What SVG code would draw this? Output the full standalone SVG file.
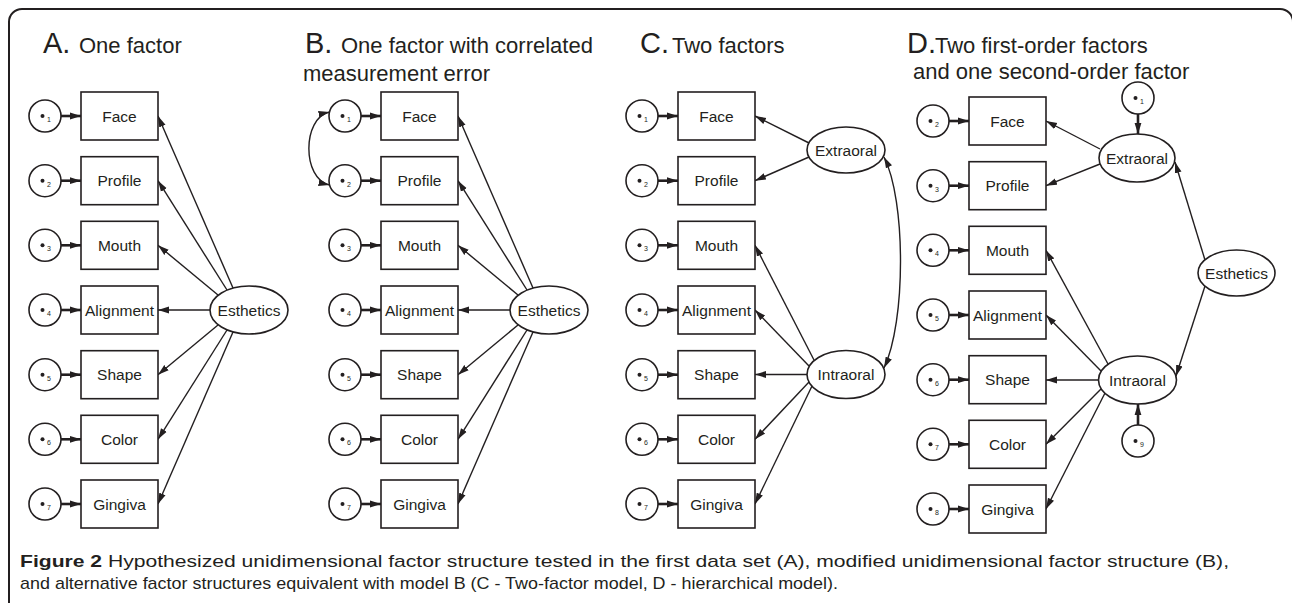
<svg xmlns="http://www.w3.org/2000/svg" width="1292" height="603" viewBox="0 0 1292 603">
<style>
.frame{fill:none;stroke:#231f20;stroke-width:2}
.box{fill:#fff;stroke:#231f20;stroke-width:1.6}
.lat{fill:#fff;stroke:#231f20;stroke-width:1.6}
.err{fill:#fff;stroke:#231f20;stroke-width:1.6}
.dot{fill:#231f20}
.lbl{font-family:"Liberation Sans",Arial,sans-serif;font-size:15.5px;fill:#231f20;text-anchor:middle}
.sub{font-family:"Liberation Sans",Arial,sans-serif;font-size:7px;fill:#231f20}
.big{font-family:"Liberation Sans",Arial,sans-serif;font-size:29px;fill:#231f20}
.ttl{font-family:"Liberation Sans",Arial,sans-serif;font-size:22px;fill:#231f20}
.cap{font-family:"Liberation Sans",Arial,sans-serif;font-size:17px;fill:#231f20}
.ln{fill:none;stroke:#231f20;stroke-width:1.4;marker-end:url(#ah)}
.thk{fill:none;stroke:#231f20;stroke-width:2.6;marker-end:url(#ah)}
.dbl{fill:none;stroke:#231f20;stroke-width:1.4;marker-start:url(#ah);marker-end:url(#ah)}
</style>
<defs>
<marker id="ah" markerWidth="12" markerHeight="8" refX="11" refY="4" orient="auto-start-reverse" markerUnits="userSpaceOnUse">
<path d="M0,0.6 L11,4 L0,7.4 z" fill="#231f20"/>
</marker>
</defs>
<rect width="1292" height="603" fill="#fff"/>
<path class="frame" d="M9,640 V22 A13,13 0 0 1 22,9 H1280 A13,13 0 0 1 1293,22 V640"/>

<!-- titles -->
<g id="titleA"><text class="big" x="43" y="53">A.</text><text class="ttl" x="79" y="53">One factor</text></g>
<g id="titleB"><text class="big" x="305" y="53">B.</text><text class="ttl" x="341" y="53">One factor with correlated</text><text class="ttl" x="303" y="81">measurement error</text></g>
<g id="titleC"><text class="big" x="640" y="53">C.</text><text class="ttl" x="672" y="53">Two factors</text></g>
<g id="titleD"><text class="big" x="907" y="53">D.</text><text class="ttl" x="935" y="53">Two first-order factors</text><text class="ttl" x="913" y="79">and one second-order factor</text></g>

<!-- connectors -->
<g id="connectors">
<line class="thk" x1="61" y1="116" x2="81" y2="116"/>
<line class="thk" x1="61" y1="180.7" x2="81" y2="180.7"/>
<line class="thk" x1="61" y1="245.3" x2="81" y2="245.3"/>
<line class="thk" x1="61" y1="310" x2="81" y2="310"/>
<line class="thk" x1="61" y1="374.7" x2="81" y2="374.7"/>
<line class="thk" x1="61" y1="439.3" x2="81" y2="439.3"/>
<line class="thk" x1="61" y1="504" x2="81" y2="504"/>
<line class="ln" x1="233" y1="288" x2="158" y2="116"/>
<line class="ln" x1="227" y1="290" x2="158" y2="180.7"/>
<line class="ln" x1="218" y1="295" x2="158" y2="245.3"/>
<line class="ln" x1="210" y1="310" x2="158" y2="310"/>
<line class="ln" x1="218" y1="325" x2="158" y2="374.7"/>
<line class="ln" x1="227" y1="330" x2="158" y2="439.3"/>
<line class="ln" x1="233" y1="332" x2="158" y2="504"/>
<line class="thk" x1="361" y1="116" x2="381" y2="116"/>
<line class="thk" x1="361" y1="180.7" x2="381" y2="180.7"/>
<line class="thk" x1="361" y1="245.3" x2="381" y2="245.3"/>
<line class="thk" x1="361" y1="310" x2="381" y2="310"/>
<line class="thk" x1="361" y1="374.7" x2="381" y2="374.7"/>
<line class="thk" x1="361" y1="439.3" x2="381" y2="439.3"/>
<line class="thk" x1="361" y1="504" x2="381" y2="504"/>
<line class="ln" x1="533" y1="288" x2="458" y2="116"/>
<line class="ln" x1="527" y1="290" x2="458" y2="180.7"/>
<line class="ln" x1="518" y1="295" x2="458" y2="245.3"/>
<line class="ln" x1="510" y1="310" x2="458" y2="310"/>
<line class="ln" x1="518" y1="325" x2="458" y2="374.7"/>
<line class="ln" x1="527" y1="330" x2="458" y2="439.3"/>
<line class="ln" x1="533" y1="332" x2="458" y2="504"/>
<path class="dbl" d="M329.5,112 C302,118 302,179 329.5,185"/>
<line class="thk" x1="658" y1="116" x2="678" y2="116"/>
<line class="thk" x1="658" y1="180.7" x2="678" y2="180.7"/>
<line class="thk" x1="658" y1="245.3" x2="678" y2="245.3"/>
<line class="thk" x1="658" y1="310" x2="678" y2="310"/>
<line class="thk" x1="658" y1="374.7" x2="678" y2="374.7"/>
<line class="thk" x1="658" y1="439.3" x2="678" y2="439.3"/>
<line class="thk" x1="658" y1="504" x2="678" y2="504"/>
<line class="ln" x1="809" y1="143" x2="755" y2="116"/>
<line class="ln" x1="809" y1="157" x2="755" y2="180.7"/>
<line class="ln" x1="814" y1="360" x2="755" y2="245.3"/>
<line class="ln" x1="809" y1="366" x2="755" y2="310"/>
<line class="ln" x1="807" y1="374.5" x2="755" y2="374.5"/>
<line class="ln" x1="809" y1="382" x2="755" y2="439.3"/>
<line class="ln" x1="812" y1="386" x2="755" y2="504"/>
<path class="dbl" d="M884,157 C906,200 906,322 884,368"/>
<line class="thk" x1="949" y1="121" x2="969" y2="121"/>
<line class="thk" x1="949" y1="185.7" x2="969" y2="185.7"/>
<line class="thk" x1="949" y1="250.3" x2="969" y2="250.3"/>
<line class="thk" x1="949" y1="315" x2="969" y2="315"/>
<line class="thk" x1="949" y1="379.7" x2="969" y2="379.7"/>
<line class="thk" x1="949" y1="444.3" x2="969" y2="444.3"/>
<line class="thk" x1="949" y1="509" x2="969" y2="509"/>
<line class="thk" x1="1138" y1="114" x2="1138" y2="134"/>
<line class="thk" x1="1138" y1="425" x2="1138" y2="404"/>
<line class="ln" x1="1100" y1="149" x2="1046" y2="121"/>
<line class="ln" x1="1100" y1="164" x2="1046" y2="185.7"/>
<line class="ln" x1="1108" y1="364" x2="1046" y2="250.3"/>
<line class="ln" x1="1101" y1="371" x2="1046" y2="315"/>
<line class="ln" x1="1098.5" y1="380" x2="1046" y2="380"/>
<line class="ln" x1="1101" y1="389" x2="1046" y2="444.3"/>
<line class="ln" x1="1105" y1="393" x2="1046" y2="509"/>
<line class="ln" x1="1205" y1="260" x2="1175" y2="162"/>
<line class="ln" x1="1205" y1="286" x2="1176" y2="376"/>
</g>

<!-- Panel A nodes -->
<g id="A-e1"><circle class="err" cx="45" cy="116" r="16"/><circle class="dot" cx="42.5" cy="116" r="2"/><text class="sub" x="47" y="122">1</text></g>
<g id="A-e2"><circle class="err" cx="45" cy="180.7" r="16"/><circle class="dot" cx="42.5" cy="180.7" r="2"/><text class="sub" x="47" y="186.7">2</text></g>
<g id="A-e3"><circle class="err" cx="45" cy="245.3" r="16"/><circle class="dot" cx="42.5" cy="245.3" r="2"/><text class="sub" x="47" y="251.3">3</text></g>
<g id="A-e4"><circle class="err" cx="45" cy="310" r="16"/><circle class="dot" cx="42.5" cy="310" r="2"/><text class="sub" x="47" y="316">4</text></g>
<g id="A-e5"><circle class="err" cx="45" cy="374.7" r="16"/><circle class="dot" cx="42.5" cy="374.7" r="2"/><text class="sub" x="47" y="380.7">5</text></g>
<g id="A-e6"><circle class="err" cx="45" cy="439.3" r="16"/><circle class="dot" cx="42.5" cy="439.3" r="2"/><text class="sub" x="47" y="445.3">6</text></g>
<g id="A-e7"><circle class="err" cx="45" cy="504" r="16"/><circle class="dot" cx="42.5" cy="504" r="2"/><text class="sub" x="47" y="510">7</text></g>
<g id="A-face"><rect class="box" x="81" y="92" width="77" height="48"/><text class="lbl" x="119.5" y="121.5">Face</text></g>
<g id="A-profile"><rect class="box" x="81" y="156.7" width="77" height="48"/><text class="lbl" x="119.5" y="186.2">Profile</text></g>
<g id="A-mouth"><rect class="box" x="81" y="221.3" width="77" height="48"/><text class="lbl" x="119.5" y="250.8">Mouth</text></g>
<g id="A-alignment"><rect class="box" x="81" y="286" width="77" height="48"/><text class="lbl" x="119.5" y="315.5">Alignment</text></g>
<g id="A-shape"><rect class="box" x="81" y="350.7" width="77" height="48"/><text class="lbl" x="119.5" y="380.2">Shape</text></g>
<g id="A-color"><rect class="box" x="81" y="415.3" width="77" height="48"/><text class="lbl" x="119.5" y="444.8">Color</text></g>
<g id="A-gingiva"><rect class="box" x="81" y="480" width="77" height="48"/><text class="lbl" x="119.5" y="509.5">Gingiva</text></g>
<g id="A-esthetics"><ellipse class="lat" cx="249" cy="310" rx="39" ry="24"/><text class="lbl" x="249" y="315.5">Esthetics</text></g>

<!-- Panel B nodes -->
<g id="B-e1"><circle class="err" cx="345" cy="116" r="16"/><circle class="dot" cx="342.5" cy="116" r="2"/><text class="sub" x="347" y="122">1</text></g>
<g id="B-e2"><circle class="err" cx="345" cy="180.7" r="16"/><circle class="dot" cx="342.5" cy="180.7" r="2"/><text class="sub" x="347" y="186.7">2</text></g>
<g id="B-e3"><circle class="err" cx="345" cy="245.3" r="16"/><circle class="dot" cx="342.5" cy="245.3" r="2"/><text class="sub" x="347" y="251.3">3</text></g>
<g id="B-e4"><circle class="err" cx="345" cy="310" r="16"/><circle class="dot" cx="342.5" cy="310" r="2"/><text class="sub" x="347" y="316">4</text></g>
<g id="B-e5"><circle class="err" cx="345" cy="374.7" r="16"/><circle class="dot" cx="342.5" cy="374.7" r="2"/><text class="sub" x="347" y="380.7">5</text></g>
<g id="B-e6"><circle class="err" cx="345" cy="439.3" r="16"/><circle class="dot" cx="342.5" cy="439.3" r="2"/><text class="sub" x="347" y="445.3">6</text></g>
<g id="B-e7"><circle class="err" cx="345" cy="504" r="16"/><circle class="dot" cx="342.5" cy="504" r="2"/><text class="sub" x="347" y="510">7</text></g>
<g id="B-face"><rect class="box" x="381" y="92" width="77" height="48"/><text class="lbl" x="419.5" y="121.5">Face</text></g>
<g id="B-profile"><rect class="box" x="381" y="156.7" width="77" height="48"/><text class="lbl" x="419.5" y="186.2">Profile</text></g>
<g id="B-mouth"><rect class="box" x="381" y="221.3" width="77" height="48"/><text class="lbl" x="419.5" y="250.8">Mouth</text></g>
<g id="B-alignment"><rect class="box" x="381" y="286" width="77" height="48"/><text class="lbl" x="419.5" y="315.5">Alignment</text></g>
<g id="B-shape"><rect class="box" x="381" y="350.7" width="77" height="48"/><text class="lbl" x="419.5" y="380.2">Shape</text></g>
<g id="B-color"><rect class="box" x="381" y="415.3" width="77" height="48"/><text class="lbl" x="419.5" y="444.8">Color</text></g>
<g id="B-gingiva"><rect class="box" x="381" y="480" width="77" height="48"/><text class="lbl" x="419.5" y="509.5">Gingiva</text></g>
<g id="B-esthetics"><ellipse class="lat" cx="549" cy="310" rx="39" ry="24"/><text class="lbl" x="549" y="315.5">Esthetics</text></g>

<!-- Panel C nodes -->
<g id="C-e1"><circle class="err" cx="642" cy="116" r="16"/><circle class="dot" cx="639.5" cy="116" r="2"/><text class="sub" x="644" y="122">1</text></g>
<g id="C-e2"><circle class="err" cx="642" cy="180.7" r="16"/><circle class="dot" cx="639.5" cy="180.7" r="2"/><text class="sub" x="644" y="186.7">2</text></g>
<g id="C-e3"><circle class="err" cx="642" cy="245.3" r="16"/><circle class="dot" cx="639.5" cy="245.3" r="2"/><text class="sub" x="644" y="251.3">3</text></g>
<g id="C-e4"><circle class="err" cx="642" cy="310" r="16"/><circle class="dot" cx="639.5" cy="310" r="2"/><text class="sub" x="644" y="316">4</text></g>
<g id="C-e5"><circle class="err" cx="642" cy="374.7" r="16"/><circle class="dot" cx="639.5" cy="374.7" r="2"/><text class="sub" x="644" y="380.7">5</text></g>
<g id="C-e6"><circle class="err" cx="642" cy="439.3" r="16"/><circle class="dot" cx="639.5" cy="439.3" r="2"/><text class="sub" x="644" y="445.3">6</text></g>
<g id="C-e7"><circle class="err" cx="642" cy="504" r="16"/><circle class="dot" cx="639.5" cy="504" r="2"/><text class="sub" x="644" y="510">7</text></g>
<g id="C-face"><rect class="box" x="678" y="92" width="77" height="48"/><text class="lbl" x="716.5" y="121.5">Face</text></g>
<g id="C-profile"><rect class="box" x="678" y="156.7" width="77" height="48"/><text class="lbl" x="716.5" y="186.2">Profile</text></g>
<g id="C-mouth"><rect class="box" x="678" y="221.3" width="77" height="48"/><text class="lbl" x="716.5" y="250.8">Mouth</text></g>
<g id="C-alignment"><rect class="box" x="678" y="286" width="77" height="48"/><text class="lbl" x="716.5" y="315.5">Alignment</text></g>
<g id="C-shape"><rect class="box" x="678" y="350.7" width="77" height="48"/><text class="lbl" x="716.5" y="380.2">Shape</text></g>
<g id="C-color"><rect class="box" x="678" y="415.3" width="77" height="48"/><text class="lbl" x="716.5" y="444.8">Color</text></g>
<g id="C-gingiva"><rect class="box" x="678" y="480" width="77" height="48"/><text class="lbl" x="716.5" y="509.5">Gingiva</text></g>
<g id="C-extraoral"><ellipse class="lat" cx="846" cy="150" rx="39" ry="23"/><text class="lbl" x="846" y="155.5">Extraoral</text></g>
<g id="C-intraoral"><ellipse class="lat" cx="846" cy="374.5" rx="39" ry="24"/><text class="lbl" x="846" y="380">Intraoral</text></g>

<!-- Panel D nodes -->
<g id="D-e2"><circle class="err" cx="933" cy="121" r="16"/><circle class="dot" cx="930.5" cy="121" r="2"/><text class="sub" x="935" y="127">2</text></g>
<g id="D-e3"><circle class="err" cx="933" cy="185.7" r="16"/><circle class="dot" cx="930.5" cy="185.7" r="2"/><text class="sub" x="935" y="191.7">3</text></g>
<g id="D-e4"><circle class="err" cx="933" cy="250.3" r="16"/><circle class="dot" cx="930.5" cy="250.3" r="2"/><text class="sub" x="935" y="256.3">4</text></g>
<g id="D-e5"><circle class="err" cx="933" cy="315" r="16"/><circle class="dot" cx="930.5" cy="315" r="2"/><text class="sub" x="935" y="321">5</text></g>
<g id="D-e6"><circle class="err" cx="933" cy="379.7" r="16"/><circle class="dot" cx="930.5" cy="379.7" r="2"/><text class="sub" x="935" y="385.7">6</text></g>
<g id="D-e7"><circle class="err" cx="933" cy="444.3" r="16"/><circle class="dot" cx="930.5" cy="444.3" r="2"/><text class="sub" x="935" y="450.3">7</text></g>
<g id="D-e8"><circle class="err" cx="933" cy="509" r="16"/><circle class="dot" cx="930.5" cy="509" r="2"/><text class="sub" x="935" y="515">8</text></g>
<g id="D-e1"><circle class="err" cx="1138" cy="98" r="16"/><circle class="dot" cx="1135.5" cy="98" r="2"/><text class="sub" x="1140" y="104">1</text></g>
<g id="D-e9"><circle class="err" cx="1138" cy="441" r="16"/><circle class="dot" cx="1135.5" cy="441" r="2"/><text class="sub" x="1140" y="447">9</text></g>
<g id="D-face"><rect class="box" x="969" y="97" width="77" height="48"/><text class="lbl" x="1007.5" y="126.5">Face</text></g>
<g id="D-profile"><rect class="box" x="969" y="161.7" width="77" height="48"/><text class="lbl" x="1007.5" y="191.2">Profile</text></g>
<g id="D-mouth"><rect class="box" x="969" y="226.3" width="77" height="48"/><text class="lbl" x="1007.5" y="255.8">Mouth</text></g>
<g id="D-alignment"><rect class="box" x="969" y="291" width="77" height="48"/><text class="lbl" x="1007.5" y="320.5">Alignment</text></g>
<g id="D-shape"><rect class="box" x="969" y="355.7" width="77" height="48"/><text class="lbl" x="1007.5" y="385.2">Shape</text></g>
<g id="D-color"><rect class="box" x="969" y="420.3" width="77" height="48"/><text class="lbl" x="1007.5" y="449.8">Color</text></g>
<g id="D-gingiva"><rect class="box" x="969" y="485" width="77" height="48"/><text class="lbl" x="1007.5" y="514.5">Gingiva</text></g>
<g id="D-extraoral"><ellipse class="lat" cx="1137" cy="158" rx="38" ry="24"/><text class="lbl" x="1137" y="163.5">Extraoral</text></g>
<g id="D-intraoral"><ellipse class="lat" cx="1137.5" cy="380" rx="39" ry="24"/><text class="lbl" x="1137.5" y="385.5">Intraoral</text></g>
<g id="D-esthetics"><ellipse class="lat" cx="1236.5" cy="273" rx="38.5" ry="23"/><text class="lbl" x="1236.5" y="278.5">Esthetics</text></g>

<!-- caption -->
<g id="caption">
<text class="cap" x="20" y="567" textLength="1209" lengthAdjust="spacingAndGlyphs"><tspan font-weight="bold">Figure 2</tspan> Hypothesized unidimensional factor structure tested in the first data set (A), modified unidimensional factor structure (B),</text>
<text class="cap" x="20" y="589" textLength="818" lengthAdjust="spacingAndGlyphs">and alternative factor structures equivalent with model B (C - Two-factor model, D - hierarchical model).</text>
</g>
</svg>
